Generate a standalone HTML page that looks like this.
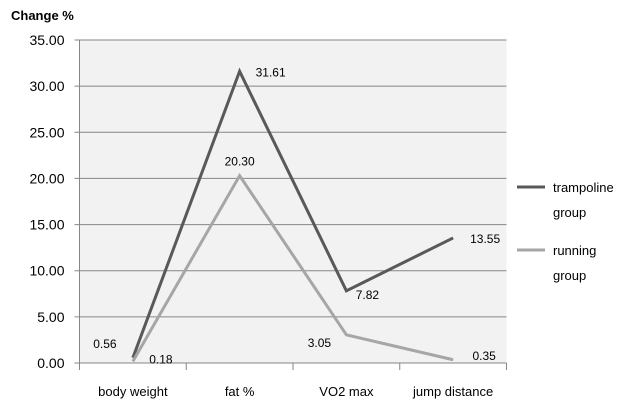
<!DOCTYPE html>
<html><head><meta charset="utf-8"><style>
body{margin:0;background:#fff;}
svg text{font-family:"Liberation Sans",sans-serif;}
</style></head><body>
<svg width="640" height="412" viewBox="0 0 640 412" xmlns="http://www.w3.org/2000/svg">
<rect x="79.5" y="40" width="427" height="323" fill="#f2f2f2"/>
<text x="11" y="20" font-size="13" font-weight="bold" fill="#000">Change %</text>
<g id="grid"></g>
<g id="axes"></g>
<g id="series"></g>
<g>
<line x1="517" y1="187" x2="545" y2="187" stroke="#595959" stroke-width="3"/>
<text x="553" y="192" font-size="13">trampoline</text>
<text x="553" y="217" font-size="13">group</text>
<line x1="517" y1="250" x2="545" y2="250" stroke="#a6a6a6" stroke-width="3"/>
<text x="553" y="255" font-size="13">running</text>
<text x="553" y="280" font-size="13">group</text>
</g>
</svg>
<script>
const categories=["body weight","fat %","VO2 max","jump distance"];
const trampoline=[0.56,31.61,7.82,13.55];
const running=[0.18,20.30,3.05,0.35];
const yTicks=[0,5,10,15,20,25,30,35];
const NS="http://www.w3.org/2000/svg";
const L=79.5,R=506.5,T=40,B=363,YMAX=35;
const bw=(R-L)/categories.length;
function x(i){return L+bw*(i+0.5);}
function y(v){return B-(v/YMAX)*(B-T);}
function mk(tag,attrs,parent){const e=document.createElementNS(NS,tag);for(const k in attrs)e.setAttribute(k,attrs[k]);parent.appendChild(e);return e;}
const grid=document.getElementById('grid'),axes=document.getElementById('axes'),ser=document.getElementById('series');
yTicks.forEach(t=>{
 const l=mk('line',{x1:L-5,x2:R,y1:y(t),y2:y(t),stroke:'#868686','stroke-width':1},grid);
 
 
 const tx=mk('text',{x:L-15,y:y(t)+5,'font-size':14,'text-anchor':'end',fill:'#000'},axes);
 tx.textContent=t.toFixed(2);
 
 
});
const ya=mk('line',{x1:L,x2:L,y1:T,y2:B,stroke:'#868686'},axes);


for(let i=0;i<=categories.length;i++){
 const tk=mk('line',{x1:L+bw*i,x2:L+bw*i,y1:B,y2:B+7,stroke:'#868686'},axes);
 
 
}
categories.forEach((c,i)=>{
 const tx=mk('text',{x:x(i),y:396,'font-size':13,'text-anchor':'middle'},axes);
 tx.textContent=c;
 
 
});
function drawSeries(vals,color,name,offs){
 const p=mk('polyline',{points:vals.map((v,i)=>x(i)+','+y(v)).join(' '),fill:'none',stroke:color,'stroke-width':3,'stroke-linejoin':'miter'},ser);
 
 
 vals.forEach((v,i)=>{
  const tx=mk('text',{x:x(i)+offs[i][0],y:y(v)+offs[i][1],'font-size':12,'text-anchor':'middle'},ser);
  tx.textContent=v.toFixed(2);
  
  
 });
}
drawSeries(trampoline,'#595959','trampoline',[[-28,-10],[31,5],[21,8],[32,5]]);
drawSeries(running,'#a6a6a6','running',[[28,2],[0,-10],[-27,12],[31,0]]);
</script>
</body></html>
